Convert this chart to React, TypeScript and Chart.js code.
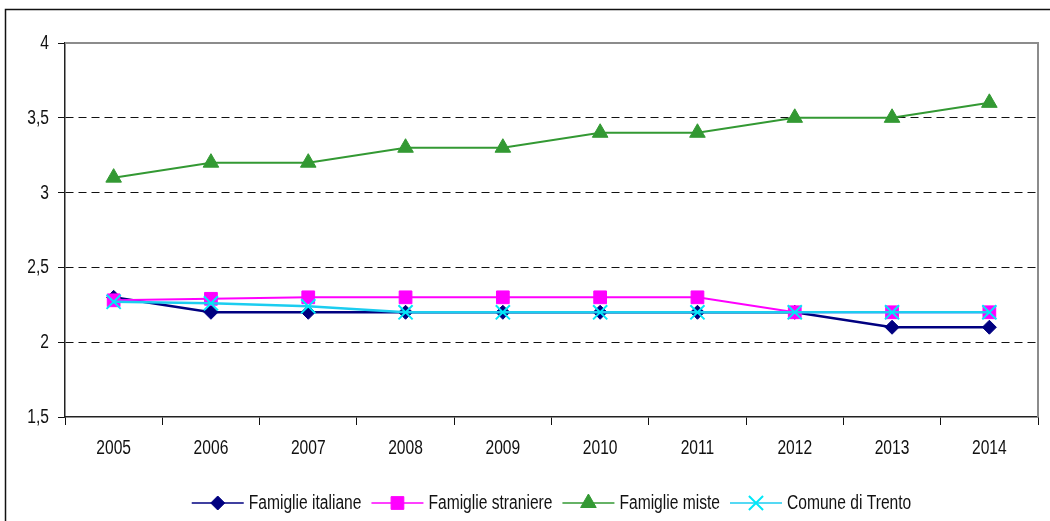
import React, { useEffect, useRef } from "react";
import { Chart, registerables } from "chart.js";
import { drawPoint } from "chart.js/helpers";

Chart.register(...registerables);

const years = ["2005", "2006", "2007", "2008", "2009", "2010", "2011", "2012", "2013", "2014"];
const famiglieItaliane = [2.3, 2.2, 2.2, 2.2, 2.2, 2.2, 2.2, 2.2, 2.1, 2.1];
const famiglieStraniere = [2.28, 2.29, 2.3, 2.3, 2.3, 2.3, 2.3, 2.2, 2.2, 2.2];
const famiglieMiste = [3.1, 3.2, 3.2, 3.3, 3.3, 3.4, 3.4, 3.5, 3.5, 3.6];
const comuneTrento = [2.27, 2.26, 2.24, 2.2, 2.2, 2.2, 2.2, 2.2, 2.2, 2.2];
const seriesNames = ["Famiglie italiane", "Famiglie straniere", "Famiglie miste", "Comune di Trento"];
const yMin = 1.5;
const yMax = 4;
const yStep = 0.5;

const FONT = "'Liberation Sans', Arial, sans-serif";
const FONT_SIZE = 20;
const SQUEEZE = 0.78;
const TEXT_COLOR = "#111";

const fmt = (v: number) => String(Number(v)).replace(".", ",");

function narrowText(ctx: any, text: string, x: number, y: number, align: string) {
  ctx.save();
  ctx.translate(x, y);
  ctx.scale(SQUEEZE, 1);
  ctx.font = `${FONT_SIZE}px ${FONT}`;
  ctx.textAlign = align;
  ctx.textBaseline = "middle";
  ctx.fillStyle = TEXT_COLOR;
  ctx.fillText(text, 0, 0);
  ctx.restore();
}

const framePlugin = {
  id: "frame",
  beforeDraw(chart: any) {
    const ctx = chart.ctx;
    ctx.save();
    ctx.fillStyle = "#fff";
    ctx.fillRect(0, 0, chart.width, chart.height);
    ctx.strokeStyle = "#111";
    ctx.lineWidth = 1.5;
    ctx.beginPath();
    ctx.moveTo(5.5, chart.height + 2);
    ctx.lineTo(5.5, 9.5);
    ctx.lineTo(chart.width + 2, 9.5);
    ctx.stroke();
    ctx.restore();
  },
  beforeDatasetsDraw(chart: any) {
    const { ctx, chartArea: a } = chart;
    ctx.save();
    ctx.strokeStyle = "#8c8c8c";
    ctx.lineWidth = 2;
    ctx.beginPath();
    ctx.moveTo(a.left, a.top);
    ctx.lineTo(a.right, a.top);
    ctx.lineTo(a.right, a.bottom);
    ctx.stroke();
    ctx.restore();
  },
  afterDraw(chart: any) {
    const { ctx, chartArea: a } = chart;
    const xs = chart.scales.x;
    const ys = chart.scales.y;
    ys.ticks.forEach((t: any, i: number) => {
      narrowText(ctx, fmt(t.value), 49, ys.getPixelForTick(i) + 0.5, "right");
    });
    xs.ticks.forEach((t: any, i: number) => {
      narrowText(ctx, String(chart.data.labels[i]), xs.getPixelForTick(i), 448, "center");
    });

    const datasets = chart.data.datasets;
    ctx.save();
    ctx.font = `${FONT_SIZE}px ${FONT}`;
    const lineLen = 52;
    const gapText = 5;
    const gapItem = 10;
    const widths = datasets.map((d: any) => ctx.measureText(d.label).width * SQUEEZE);
    let total = 0;
    widths.forEach((w: number, i: number) => {
      total += lineLen + gapText + w + (i < widths.length - 1 ? gapItem : 0);
    });
    let x = (a.left + a.right) / 2 - total / 2;
    const y = 503;
    datasets.forEach((d: any, i: number) => {
      ctx.strokeStyle = d.borderColor;
      ctx.lineWidth = 1.5;
      ctx.beginPath();
      ctx.moveTo(x, y);
      ctx.lineTo(x + lineLen, y);
      ctx.stroke();
      ctx.fillStyle = d.pointBackgroundColor;
      ctx.strokeStyle = d.pointBorderColor;
      ctx.lineWidth = d.pointBorderWidth;
      drawPoint(ctx, { pointStyle: d.pointStyle, radius: d.pointRadius, rotation: 0, borderWidth: d.pointBorderWidth }, x + lineLen / 2, y);
      narrowText(ctx, d.label, x + lineLen + gapText, y, "left");
      x += lineLen + gapText + widths[i] + gapItem;
    });
    ctx.restore();
  },
};

export default function App() {
  const ref = useRef<HTMLCanvasElement | null>(null);
  useEffect(() => {
    if (!ref.current) return;
    const chart = new Chart(ref.current, {
      type: "line",
      data: {
        labels: years,
        datasets: [
          {
            label: seriesNames[0],
            data: famiglieItaliane,
            borderColor: "#000080",
            backgroundColor: "#000080",
            pointBackgroundColor: "#000080",
            pointBorderColor: "#000080",
            borderWidth: 2.5,
            pointStyle: "rectRot",
            pointRadius: 7,
            pointBorderWidth: 1,
            order: 4,
          },
          {
            label: seriesNames[1],
            data: famiglieStraniere,
            borderColor: "#FF00FF",
            backgroundColor: "#FF00FF",
            pointBackgroundColor: "#FF00FF",
            pointBorderColor: "#FF00FF",
            borderWidth: 2,
            pointStyle: "rect",
            pointRadius: 9,
            pointBorderWidth: 1,
            order: 3,
          },
          {
            label: seriesNames[2],
            data: famiglieMiste,
            borderColor: "#339933",
            backgroundColor: "#339933",
            pointBackgroundColor: "#339933",
            pointBorderColor: "#339933",
            borderWidth: 2,
            pointStyle: "triangle",
            pointRadius: 9,
            pointBorderWidth: 1,
            order: 2,
          },
          {
            label: seriesNames[3],
            data: comuneTrento,
            borderColor: "#1CCDF0",
            backgroundColor: "#00E8F8",
            pointBackgroundColor: "#00E8F8",
            pointBorderColor: "#00E8F8",
            borderWidth: 2.5,
            pointStyle: "crossRot",
            pointRadius: 10,
            pointBorderWidth: 2,
            order: 1,
          },
        ],
      },
      options: {
        responsive: false,
        animation: false,
        layout: { padding: { left: 0, top: 43, right: 7, bottom: 0 } },
        plugins: {
          legend: { display: false },
          tooltip: { enabled: false },
          title: { display: false },
        },
        elements: { line: { tension: 0 } },
        scales: {
          x: {
            type: "category",
            offset: true,
            grid: {
              offset: true,
              drawOnChartArea: false,
              drawTicks: true,
              tickLength: 8,
              tickColor: "#111",
              color: "#111",
            },
            border: { display: true, color: "#222", width: 1.5 },
            ticks: {
              color: "rgba(0,0,0,0)",
              font: { family: FONT, size: FONT_SIZE },
              padding: 11,
              maxRotation: 0,
              autoSkip: false,
            },
            afterFit: (s: any) => {
              s.height = 104;
            },
          },
          y: {
            min: yMin,
            max: yMax,
            grid: {
              color: (c: any) =>
                c.tick && (c.tick.value === yMax || c.tick.value === yMin) ? "rgba(0,0,0,0)" : "#111",
              lineWidth: 1,
              tickLength: 7,
              tickColor: "#111",
            },
            border: { display: true, color: "#222", width: 1.5, dash: [8, 5] },
            ticks: {
              stepSize: yStep,
              color: "rgba(0,0,0,0)",
              font: { family: FONT, size: FONT_SIZE },
              padding: 9,
              callback: (v: any) => fmt(v),
            },
            afterFit: (s: any) => {
              s.width = 65;
            },
          },
        },
      },
      plugins: [framePlugin],
    } as any);
    return () => chart.destroy();
  }, []);
  return (
    <div style={{ position: "absolute", left: 0, top: 0, width: 1050, height: 521, background: "#fff" }}>
      <canvas ref={ref} width={1050} height={521} style={{ display: "block" }} />
    </div>
  );
}
